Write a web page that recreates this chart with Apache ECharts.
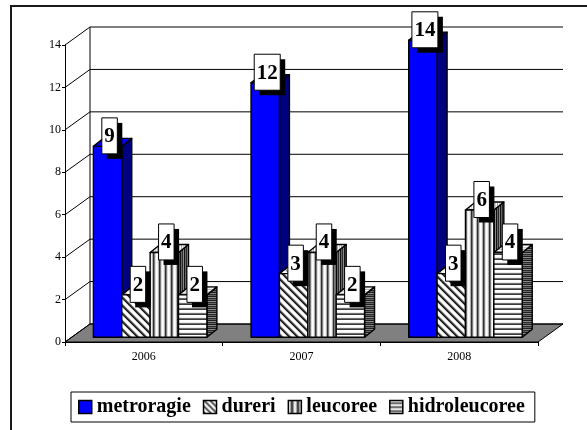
<!DOCTYPE html>
<html>
<head>
<meta charset="utf-8">
<script src="https://cdn.jsdelivr.net/npm/echarts@6/dist/echarts.min.js"></script>
<style>
  html, body { margin: 0; padding: 0; background: #fff; }
  #chart { width: 587px; height: 430px; }
</style>
</head>
<body>
<div id="chart"></div>
<script>
// Categories and series values
const years = ['2006', '2007', '2008'];
const seriesNames = ['metroragie', 'dureri', 'leucoree', 'hidroleucoree'];
const metroragie = [9, 12, 14];
const dureri = [2, 3, 3];
const leucoree = [4, 4, 6];
const hidroleucoree = [2, 2, 4];
const yTicks = [0, 2, 4, 6, 8, 10, 12, 14];

const seriesValues = [metroragie, dureri, leucoree, hidroleucoree];

// Projection offsets used to fake the 3D look
const WALL_DX = 25, WALL_DY = -18;   // depth of floor / side wall
const BAR_DX = 6.3, BAR_DY = -4.7;   // front plane of the bars
const BAR_DEPTH_X = 10, BAR_DEPTH_Y = -8;
const FONT = '"Liberation Serif", "Times New Roman", serif';

// Tile patterns
function tile(w, h, paint) {
  const c = document.createElement('canvas');
  c.width = w; c.height = h;
  paint(c.getContext('2d'), w, h);
  return { image: c, repeat: 'repeat' };
}
function vStripes(cols) {
  return tile(cols.length, 8, (ctx, w, h) => {
    cols.forEach((col, i) => { ctx.fillStyle = col; ctx.fillRect(i, 0, 1, h); });
  });
}
function hStripes(cols) {
  return tile(8, cols.length, (ctx, w, h) => {
    cols.forEach((col, i) => { ctx.fillStyle = col; ctx.fillRect(0, i, w, 1); });
  });
}
function diagStripes(cols) {
  const n = cols.length;
  return tile(n, n, (ctx) => {
    for (let x = 0; x < n; x++) {
      for (let y = 0; y < n; y++) {
        ctx.fillStyle = cols[((x - y) % n + n) % n];
        ctx.fillRect(x, y, 1, 1);
      }
    }
  });
}

const faces = [
  { front: '#0000ff', side: '#000080', top: '#0000ff' },
  {
    front: diagStripes(['#1a1a1a', '#333', '#666', '#ddd', '#fff', '#fff', '#fff', '#bbb']),
    side: diagStripes(['#000', '#222', '#444', '#888', '#999', '#777', '#444', '#222']),
    top: diagStripes(['#999', '#ccc', '#eee', '#fff', '#fff', '#fff', '#eee', '#ccc'])
  },
  {
    front: vStripes(['#ffffff', '#f0f0f0', '#b0b0b0', '#303030', '#7a7a7a', '#dcdcdc']),
    side: vStripes(['#111', '#666', '#2a2a2a', '#8a8a8a']),
    top: vStripes(['#f4f4f4', '#aaaaaa', '#ffffff', '#cccccc'])
  },
  {
    front: hStripes(['#ffffff', '#ffffff', '#ececec', '#6e6e6e', '#3a3a3a']),
    side: hStripes(['#1e1e1e', '#8a8a8a', '#2a2a2a', '#666']),
    top: hStripes(['#eeeeee', '#bbbbbb', '#ffffff', '#d0d0d0'])
  }
];
const legendFill = [
  '#0000ff',
  diagStripes(['#222', '#555', '#aaa', '#fff', '#fff', '#ddd']),
  vStripes(['#fff', '#ddd', '#888', '#222', '#666', '#bbb']),
  hStripes(['#fff', '#ccc', '#444', '#999'])
];

// Floor, side wall diagonals and back-wall gridlines
function renderWalls(params, api) {
  const cs = params.coordSys;
  const t = api.value(1);
  const y = api.coord([0, t])[1];
  const left = cs.x, right = cs.x + cs.width;
  const children = [];
  if (t === 0) {
    children.push({
      type: 'polygon',
      shape: { points: [[left, y], [right, y], [right + WALL_DX, y + WALL_DY], [left + WALL_DX, y + WALL_DY]] },
      style: { fill: '#808080', stroke: '#000', lineWidth: 1 }
    });
    const yTop = api.coord([0, yTicks[yTicks.length - 1]])[1];
    children.push({
      type: 'line',
      shape: { x1: left + WALL_DX, y1: y + WALL_DY, x2: left + WALL_DX, y2: yTop + WALL_DY },
      style: { stroke: '#000', lineWidth: 1 }
    });
  }
  children.push({
    type: 'polyline',
    shape: { points: [[left, y], [left + WALL_DX, y + WALL_DY], [right + WALL_DX, y + WALL_DY]] },
    style: { stroke: '#000', lineWidth: 1, fill: null }
  });
  return { type: 'group', children: children };
}

// One 3D column with its value label
function barRenderer(s) {
  return function (params, api) {
    const i = api.value(0), v = api.value(1);
    const band = api.size([1, 0])[0];
    const base = api.coord([i, 0]);
    const top = api.coord([i, v]);
    const bw = band * 0.18;
    const x0 = base[0] - bw * 2 + s * bw + BAR_DX;
    const x1 = x0 + bw;
    const yb = base[1] + BAR_DY;
    const yt = top[1] + BAR_DY;
    const f = faces[s];
    const edge = { stroke: '#000', lineWidth: 1.4, lineJoin: 'round' };
    const z = 10 + s;
    const txt = String(v);
    const boxW = 5 + 10.5 * txt.length, boxH = 36;
    const cx = (x0 + x1) / 2 + 2, cy = yt - 10.5;
    return {
      type: 'group',
      children: [
        { type: 'polygon', z2: z,
          shape: { points: [[x1, yb], [x1 + BAR_DEPTH_X, yb + BAR_DEPTH_Y], [x1 + BAR_DEPTH_X, yt + BAR_DEPTH_Y], [x1, yt]] },
          style: Object.assign({ fill: f.side }, edge) },
        { type: 'polygon', z2: z,
          shape: { points: [[x0, yt], [x1, yt], [x1 + BAR_DEPTH_X, yt + BAR_DEPTH_Y], [x0 + BAR_DEPTH_X, yt + BAR_DEPTH_Y]] },
          style: Object.assign({ fill: f.top }, edge) },
        { type: 'rect', z2: z,
          shape: { x: x0, y: yt, width: bw, height: yb - yt },
          style: Object.assign({ fill: f.front }, edge) },
        { type: 'rect', z2: 100,
          shape: { x: cx - boxW / 2 + 5, y: cy - boxH / 2 + 5, width: boxW, height: boxH },
          style: { fill: '#000' } },
        { type: 'rect', z2: 101,
          shape: { x: cx - boxW / 2, y: cy - boxH / 2, width: boxW, height: boxH },
          style: { fill: '#fff', stroke: '#000', lineWidth: 1 } },
        { type: 'text', z2: 102,
          style: { text: txt, x: cx, y: cy + 1, align: 'center', verticalAlign: 'middle',
                   font: 'bold 21px ' + FONT, fill: '#000' } }
      ]
    };
  };
}

const chart = echarts.init(document.getElementById('chart'), null, { renderer: 'canvas' });

const series = [{
  type: 'custom',
  silent: true,
  z: 1,
  renderItem: renderWalls,
  data: yTicks.map(t => [0, t]),
  clip: false
}];
seriesNames.forEach((name, s) => {
  series.push({
    name: name,
    type: 'custom',
    z: 2,
    renderItem: barRenderer(s),
    itemStyle: { color: legendFill[s] },
    data: seriesValues[s].map((v, i) => [i, v]),
    clip: false
  });
});

chart.setOption({
  animation: false,
  backgroundColor: '#fff',
  graphic: [{
    type: 'rect',
    z: -10,
    shape: { x: 11, y: 6, width: 640, height: 500 },
    style: { fill: 'none', stroke: '#1a1a1a', lineWidth: 2 }
  }],
  grid: { left: 65, right: 49, top: 45, bottom: 88 },
  xAxis: {
    type: 'category',
    data: years,
    boundaryGap: true,
    axisLine: { lineStyle: { color: '#000', width: 1 } },
    axisTick: { show: true, length: 4, lineStyle: { color: '#000' } },
    axisLabel: { color: '#000', fontSize: 12, fontFamily: FONT, margin: 9 }
  },
  yAxis: {
    type: 'value',
    min: 0, max: 14, interval: 2,
    axisLine: { show: true, lineStyle: { color: '#000', width: 1 } },
    axisTick: { show: true, length: 3, lineStyle: { color: '#000' } },
    axisLabel: { color: '#000', fontSize: 12, fontFamily: FONT, margin: 4 },
    splitLine: { show: false }
  },
  legend: {
    left: 71, top: 392,
    selectedMode: false,
    padding: [5, 10, 5, 7],
    itemWidth: 13, itemHeight: 13, itemGap: 12,
    backgroundColor: '#fff',
    borderColor: '#000', borderWidth: 1,
    borderRadius: 0,
    icon: 'rect',
    itemStyle: { borderColor: '#000', borderWidth: 1.5 },
    textStyle: { color: '#000', fontSize: 20, fontWeight: 'bold', fontFamily: FONT },
    data: seriesNames.map((n, s) => ({ name: n, itemStyle: { color: legendFill[s] } }))
  },
  series: series
});
</script>
</body>
</html>
